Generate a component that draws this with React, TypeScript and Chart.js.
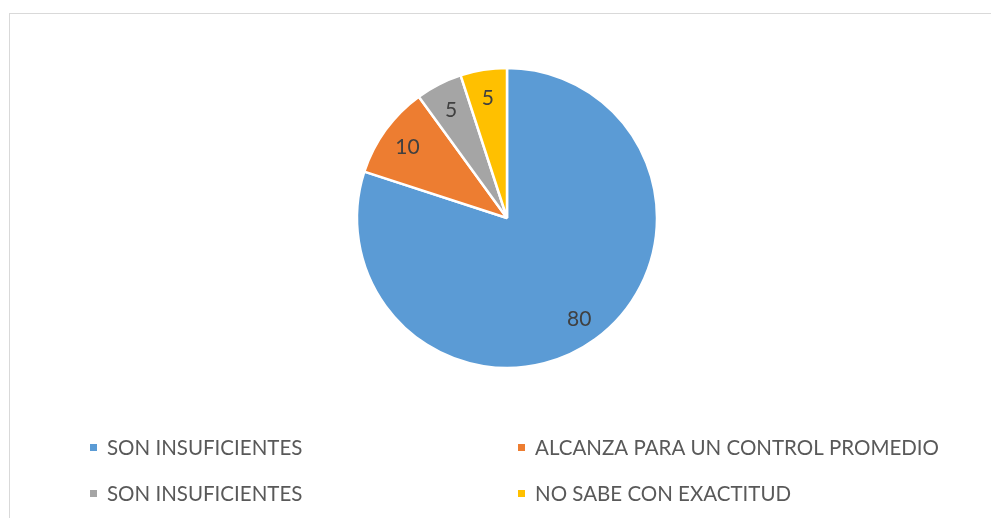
import React, { useEffect, useRef } from "react";
import { Chart, registerables } from "chart.js";

Chart.register(...registerables);

const categories = [
  "SON INSUFICIENTES",
  "ALCANZA PARA UN CONTROL PROMEDIO",
  "SON INSUFICIENTES",
  "NO SABE CON EXACTITUD",
];
const values = [80, 10, 5, 5];
const colors = ["#5B9BD5", "#ED7D31", "#A5A5A5", "#FFC000"];

const FONT = "Lato, 'Open Sans', sans-serif";

const framePlugin = {
  id: "frame",
  beforeDraw(chart: any) {
    const ctx = chart.ctx;
    ctx.save();
    ctx.fillStyle = "#ffffff";
    ctx.fillRect(0, 0, chart.width, chart.height);
    ctx.strokeStyle = "#d9d9d9";
    ctx.lineWidth = 1;
    ctx.strokeRect(9.5, 13.5, 1200, 800);
    ctx.restore();
  },
};

const labelPlugin = {
  id: "sliceLabels",
  afterDatasetsDraw(chart: any) {
    const ctx = chart.ctx;
    const meta = chart.getDatasetMeta(0);
    const data = chart.data.datasets[0].data;
    ctx.save();
    ctx.fillStyle = "#404040";
    ctx.font = `21px ${FONT}`;
    ctx.textAlign = "center";
    ctx.textBaseline = "middle";
    meta.data.forEach((arc: any, i: number) => {
      const { x, y, startAngle, endAngle, outerRadius } = arc.getProps(
        ["x", "y", "startAngle", "endAngle", "outerRadius"],
        true
      );
      const mid = (startAngle + endAngle) / 2;
      const r = outerRadius * 0.82;
      ctx.fillText(String(data[i]), x + Math.cos(mid) * r, y + Math.sin(mid) * r + 2);
    });
    ctx.restore();
  },
};

const legendPlugin = {
  id: "customLegend",
  afterDraw(chart: any) {
    const ctx = chart.ctx;
    const colX = [90, 518];
    const rowY = [447.5, 493.5];
    ctx.save();
    ctx.font = `20.5px ${FONT}`;
    ctx.textBaseline = "middle";
    ctx.textAlign = "left";
    categories.forEach((label, i) => {
      const x = colX[i % 2];
      const y = rowY[Math.floor(i / 2)];
      ctx.fillStyle = colors[i];
      ctx.fillRect(x, y - 3.5, 7, 7);
      ctx.fillStyle = "#595959";
      ctx.fillText(label, x + 17, y + 1);
    });
    ctx.restore();
  },
};

export default function App() {
  const ref = useRef<HTMLCanvasElement | null>(null);
  useEffect(() => {
    if (!ref.current) return;
    const chart = new Chart(ref.current, {
      type: "pie",
      data: {
        labels: categories,
        datasets: [
          {
            data: values,
            backgroundColor: colors,
            borderColor: "#ffffff",
            borderWidth: 2.5,
          },
        ],
      },
      options: {
        animation: false,
        responsive: false,
        radius: 150,
        layout: { padding: { left: 23, right: 0, top: 0, bottom: 82 } },
        plugins: {
          legend: { display: false },
          tooltip: { enabled: false },
        },
      } as any,
      plugins: [framePlugin, labelPlugin, legendPlugin],
    });
    return () => chart.destroy();
  }, []);
  return (
    <div style={{ position: "fixed", left: 0, top: 0, width: 991, height: 518, overflow: "hidden", background: "#fff" }}>
      <canvas ref={ref} width={991} height={518} style={{ width: 991, height: 518, display: "block" }} />
    </div>
  );
}
